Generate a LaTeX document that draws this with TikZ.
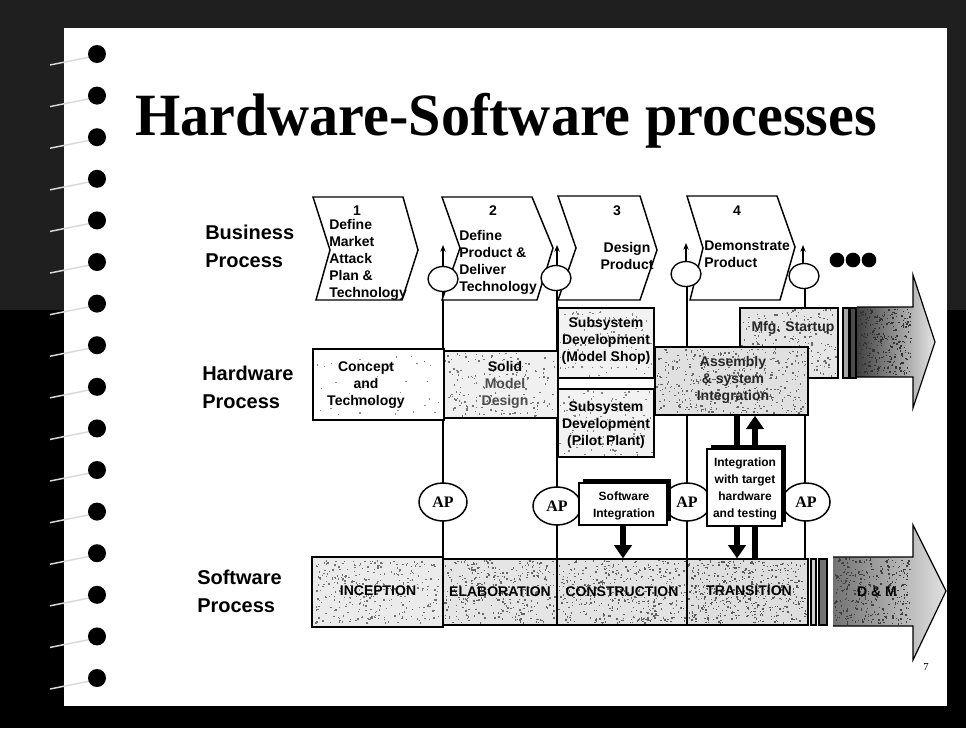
\documentclass[tikz,border=0pt]{standalone}
\usepackage{fontspec}
\setmainfont{Liberation Serif}
\setsansfont{Liberation Sans}
\usetikzlibrary{fit,arrows.meta,shapes.geometric,shadows}
\pgfdeclarelayer{back}
\pgfdeclarelayer{bg}
\pgfsetlayers{back,bg,main}
\newcommand\specklebox[6]{%
  \foreach \k in {1,...,#5}{%
    \pgfmathsetmacro\sx{#1+rnd*(#3-#1-1.5)}%
    \pgfmathsetmacro\sy{#2+rnd*(#4-#2-1.5)}%
    \fill[#6] (\sx,\sy) rectangle ++(1.4,1.4);
  }}
\begin{document}
\begin{tikzpicture}[x=0.75pt,y=-0.75pt,
  rowlbl/.style={font=\sffamily\bfseries\fontsize{15}{21}\selectfont, align=left, anchor=west, inner sep=0},
  chtext/.style={font=\sffamily\bfseries\fontsize{10.5}{12.75}\selectfont, inner sep=0},
  chev/.style={draw, line width=1.1pt, fill=white, line join=miter},
  bizoval/.style={ellipse, draw, fill=white, line width=1pt, minimum width=22.5pt, minimum height=18.75pt, inner sep=0},
  thinarr/.style={line width=0.9pt, -{Stealth[length=5pt,width=4pt]}},
  vline/.style={line width=1pt},
  boxn/.style={draw, line width=0.9pt, inner sep=0},
  boxtext/.style={inner sep=0, font=\sffamily\bfseries\fontsize{10.5}{13}\selectfont, align=center},
  smalltext/.style={inner sep=0, font=\sffamily\bfseries\fontsize{9}{12.75}\selectfont, align=center},
  smallbox/.style={draw, line width=1.1pt, fill=white, inner sep=0,
     drop shadow={shadow xshift=3pt, shadow yshift=3pt, opacity=1, fill=black}},
  apnode/.style={ellipse, draw, fill=white, line width=1.1pt, minimum width=36pt, minimum height=28.5pt, inner sep=0, font=\bfseries\fontsize{12}{12}\selectfont},
  thickarr/.style={line width=3.8pt, -{Triangle[length=10pt,width=13pt]}},
  thickline/.style={line width=3.8pt},
  barn/.style={draw, line width=0.8pt, inner sep=0},
  bigarrow/.style={draw, line width=0.9pt, line join=miter}
]
\pgfmathsetseed{7}
\useasboundingbox (0,0) rectangle (966,728);
\begin{pgfonlayer}{back}
  \fill[black] (0,0) rectangle (966,728);
  \fill[black!88] (0,0) rectangle (966,310);
  \fill[white] (64,28) rectangle (947,706);
  \foreach \i in {0,...,15}{
    \pgfmathsetmacro\yy{54+41.6*\i}
    \draw[black!15, line width=1.1pt] (90,\yy+3) -- (50,\yy+11);
    \fill[black] (97,\yy) circle[radius=6.75pt];
  }
\end{pgfonlayer}

% title
\node[anchor=base, inner sep=0] (title) at (506,135)
  {\scalebox{0.97}[1]{\fontsize{45}{50}\selectfont\bfseries Hardware-Software processes}};

% row labels
\node[rowlbl] (biz) at (205,246) {Business\\Process};
\node[rowlbl] (hw) at (202,387) {Hardware\\Process};
\node[rowlbl] (sw) at (197,591) {Software\\Process};

% chevrons
\draw[chev] (313,197) -- (403,197) -- (418,250) -- (402,300) -- (316,300) -- (330,250) -- cycle;
\draw[chev] (442,197) -- (532,197) -- (553,248) -- (537,300) -- (442,300) -- (460,248) -- cycle;
\draw[chev] (558,196) -- (640,196) -- (657,250) -- (640,300) -- (558,300) -- (576,248) -- cycle;
\draw[chev] (687,196) -- (777,196) -- (795,247) -- (780,300) -- (690,300) -- (703,248) -- cycle;

\node[chtext] (n1) at (357,211) {1};
\node[chtext, align=left, anchor=west] (c1) at (329,260) {Define\\Market\\Attack\\Plan \&\\Technology};
\node[chtext] (n2) at (493,211) {2};
\node[chtext, align=left, anchor=west] (c2) at (459,262) {Define\\Product \&\\Deliver\\Technology};
\node[chtext] (n3) at (617,211) {3};
\node[chtext, align=center] (c3) at (627,256) {Design\\Product};
\node[chtext] (n4) at (737,211) {4};
\node[chtext, align=left, anchor=west] (c4) at (704,254) {Demonstrate\\Product};

% business ovals with arrows
\node[bizoval] (o1) at (443,279) {};
\node[bizoval] (o2) at (556,278) {};
\node[bizoval] (o3) at (686,274) {};
\node[bizoval] (o4) at (804,276) {};
\coordinate (t1) at (443,245);
\coordinate (t2) at (557,245);
\coordinate (t3) at (686,243);
\coordinate (t4) at (803,245);
\draw[thinarr] (o1.north) -- (t1);
\draw[thinarr] (o2.north -| t2) -- (t2);
\draw[thinarr] (o3.north) -- (t3);
\draw[thinarr] (o4.north -| t4) -- (t4);

% more dots
\fill (837,260) circle[radius=5.5pt];
\fill (853,260) circle[radius=5.5pt];
\fill (869,260) circle[radius=5.5pt];

% hardware row
\node[boxn, fill=white, line width=2pt, fit={(313,349)(444,420)}] (concept) {};
\specklebox{316}{352}{441}{417}{40}{black!45}
\node[boxtext] (conceptt) at (366,385) {Concept\\and\\Technology};

\node[boxn, fill=black!6, fit={(444,351)(558,418)}] (solid) {};
\specklebox{445}{352}{557}{417}{170}{black!55}
\node[boxtext] (solidt) at (505,385) {Solid\\\textcolor{black!70}{Model}\\\textcolor{black!70}{Design}};

\node[boxn, fill=black!5, line width=1.1pt, fit={(558,308)(654,378)}] (mshop) {};
\specklebox{559}{309}{653}{377}{110}{black!50}
\node[boxtext] (mshopt) at (606,341) {Subsystem\\Development\\(Model Shop)};

\node[boxn, fill=black!5, line width=1.1pt, fit={(558,389)(654,457)}] (pplant) {};
\specklebox{559}{390}{653}{456}{110}{black!50}
\node[boxtext] (pplantt) at (606,425) {Subsystem\\Development\\(Pilot Plant)};

\node[boxn, fill=black!10, line width=1.1pt, fit={(740,308)(838,378)}] (mfg) {};
\specklebox{741}{309}{837}{377}{220}{black!60}
\node[boxtext] (mfgt) at (793,328) {\textcolor{black!85}{Mfg. Startup}};

\node[boxn, fill=black!12, line width=1.1pt, fit={(655,347)(808,415)}] (asm) {};
\specklebox{656}{348}{807}{414}{420}{black!60}
\node[boxtext] (asmt) at (733,380) {\textcolor{black!85}{Assembly}\\\textcolor{black!85}{\& system}\\\textcolor{black!85}{Integration}};

\node[barn, fill=black!35, fit={(843,308)(849,378)}] (hb1) {};
\node[barn, fill=black!70, fit={(850,308)(856,378)}] (hb2) {};
\shade[left color=black!75, right color=black!10] (857,307) -- (913,307) -- (913,275) -- (935,342) -- (913,408) -- (913,377) -- (857,377) -- cycle;
\specklebox{858}{308}{912}{376}{260}{black!80}
\draw[bigarrow] (857,307) -- (913,307) -- (913,275) -- (935,342) -- (913,408) -- (913,377) -- (857,377);

% AP ovals
\node[apnode] (ap1) at (443,502) {AP};
\node[apnode] (ap2) at (557,506) {AP};
\node[apnode] (ap3) at (687,502) {AP};
\node[apnode] (ap4) at (806,502) {AP};

% integration boxes
\node[smallbox, fit={(579,483)(667,525)}] (swint) {};
\node[smalltext] (swintt) at (624,506) {Software\\Integration};
\node[smallbox, fit={(707,449)(782,526)}] (itg) {};
\node[smalltext] (itgt) at (745,489) {Integration\\with target\\hardware\\and testing};

% software row
\node[boxn, fill=black!8, line width=2pt, fit={(312,557)(443,627)}] (inc) {};
\specklebox{315}{560}{440}{624}{330}{black!55}
\node[boxtext] (inct) at (378,591) {INCEPTION};
\node[boxn, fill=black!10, fit={(443,559)(557,625)}] (elab) {};
\specklebox{444}{560}{556}{624}{330}{black!60}
\node[boxtext] (elabt) at (500,592) {ELABORATION};
\node[boxn, fill=black!11, fit={(557,559)(687,625)}] (cons) {};
\specklebox{558}{560}{686}{624}{420}{black!62}
\node[boxtext] (const) at (622,592) {CONSTRUCTION};
\node[boxn, fill=black!13, fit={(687,559)(808,625)}] (tran) {};
\specklebox{688}{560}{807}{624}{450}{black!65}
\node[boxtext] (trant) at (749,591) {TRANSITION};
\node[barn, fill=black!20, fit={(811,559)(816,625)}] (sb1) {};
\node[barn, fill=black!55, fit={(819,559)(827,625)}] (sb2) {};
\shade[left color=black!55, right color=black!12] (833,557) -- (913,557) -- (913,525) -- (946,591) -- (913,660) -- (913,626) -- (833,626) -- cycle;
\specklebox{834}{558}{912}{625}{330}{black!75}
\draw[bigarrow] (833,557) -- (913,557) -- (913,525) -- (946,591) -- (913,660) -- (913,626) -- (833,626);
\node[boxtext] (dm) at (877,592) {D \& M};

% vertical lines (behind)
\coordinate (v1) at (443,557);
\coordinate (v2) at (557,559);
\coordinate (v3) at (687,559);
\coordinate (v4) at (805,559);
\begin{pgfonlayer}{bg}
  \draw[vline] (o1.south) -- (v1);
  \draw[vline] (o2.south -| v2) -- (v2);
  \draw[vline] (o3.south -| v3) -- (v3);
  \draw[vline] (o4.south -| v4) -- (v4);
\end{pgfonlayer}

% thick arrows
\coordinate (xa) at (737,0);
\coordinate (xb) at (755,0);
\draw[thickarr] (swint.south) -- (swint.south |- cons.north);
\draw[thickline] (asm.south -| xa) -- (itg.north -| xa);
\draw[thickarr] (itg.north -| xb) -- (asm.south -| xb);
\draw[thickarr] (itg.south -| xa) -- (tran.north -| xa);
\draw[thickline] (itg.south -| xb) -- (tran.north -| xb);

% page number
\node[inner sep=0, font=\fontsize{8}{8}\selectfont] (pg) at (926,667) {7};
\end{tikzpicture}
\end{document}
